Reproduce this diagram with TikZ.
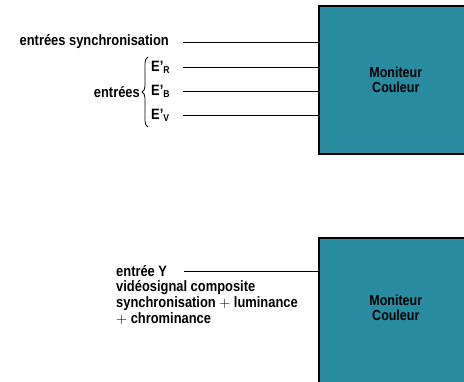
\documentclass[tikz,border=0pt]{standalone}
\usepackage{fontspec}
\setmainfont{Liberation Sans}[FakeStretch=0.86]
\usetikzlibrary{positioning,calc,decorations.pathreplacing}
\definecolor{monteal}{RGB}{40,139,160}
\newcommand{\sigsub}[1]{\raisebox{-0.25ex}{\fontsize{10}{10}\selectfont #1}}

\begin{document}
\begin{tikzpicture}[
  x=1pt,y=-1pt,
  mon/.style={draw=black,line width=1.6pt,fill=monteal,minimum width=154pt,
              minimum height=148pt,anchor=north west,align=center,
              font=\fontsize{14.5}{15}\selectfont\bfseries,inner sep=0pt},
  lbl/.style={font=\fontsize{15}{16}\selectfont\bfseries,inner sep=0pt},
  wire/.style={line width=0.9pt,black}
]
\useasboundingbox[fill=white] (0,0) rectangle (464,382);

% upper monitor: separate R, B, V inputs
\node[mon] (mona) at (318,5) {Moniteur\\Couleur};
\node[lbl,anchor=east] (syn) at (169,42) {entrées synchronisation};
\node[lbl,anchor=west] (er) at (151,67) {E'\sigsub{R}};
\node[lbl,anchor=west] (eb) at (151,91) {E'\sigsub{B}};
\node[lbl,anchor=west] (ev) at (151,115) {E'\sigsub{V}};
\coordinate (bra) at (148,127);
\coordinate (brb) at (148,57);
\draw[line width=0.8pt,decorate,decoration={brace,amplitude=6pt}] (bra) -- (brb);
\node[lbl,anchor=east] (ent) at (140,92) {entrées};

\draw[wire] (183,42) coordinate (wsyn) -- (wsyn -| mona.west);
\draw[wire] (183,67) coordinate (wr) -- (wr -| mona.west);
\draw[wire] (183,91) coordinate (wb) -- (wb -| mona.west);
\draw[wire] (183,115) coordinate (wv) -- (wv -| mona.west);

% lower monitor: composite video
\node[mon] (monb) at (318,237) {Moniteur\\Couleur\\[-6pt]};
\node[lbl,anchor=west,align=left] (ey) at (116,271) {entrée Y};
\node[lbl,anchor=north west,align=left] (comp) at (116,280)
  {vidéosignal composite\\synchronisation $+$ luminance\\$+$ chrominance};
\draw[wire] (184,271) coordinate (wy) -- (wy -| monb.west);
\end{tikzpicture}
\end{document}
